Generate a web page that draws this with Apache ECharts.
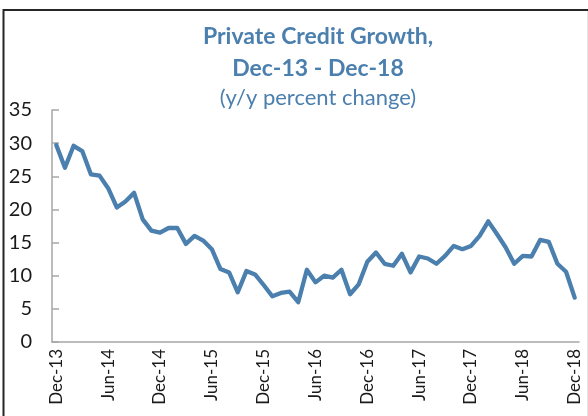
<!DOCTYPE html>
<html>
<head>
<meta charset="utf-8">
<script src="https://cdn.jsdelivr.net/npm/echarts@6/dist/echarts.min.js"></script>
<style>
html,body{margin:0;padding:0;background:#fff;}
#chart{width:588px;height:416px;}
</style>
</head>
<body>
<div id="chart"></div>
<script>
var titleLines = ['Private Credit Growth,', 'Dec-13 - Dec-18'];
var subtitle = '(y/y percent change)';

var months = [
  'Dec-13',
  'Jan-14','Feb-14','Mar-14','Apr-14','May-14','Jun-14','Jul-14','Aug-14','Sep-14','Oct-14','Nov-14','Dec-14',
  'Jan-15','Feb-15','Mar-15','Apr-15','May-15','Jun-15','Jul-15','Aug-15','Sep-15','Oct-15','Nov-15','Dec-15',
  'Jan-16','Feb-16','Mar-16','Apr-16','May-16','Jun-16','Jul-16','Aug-16','Sep-16','Oct-16','Nov-16','Dec-16',
  'Jan-17','Feb-17','Mar-17','Apr-17','May-17','Jun-17','Jul-17','Aug-17','Sep-17','Oct-17','Nov-17','Dec-17',
  'Jan-18','Feb-18','Mar-18','Apr-18','May-18','Jun-18','Jul-18','Aug-18','Sep-18','Oct-18','Nov-18','Dec-18'
];

var growth = [
  29.7,
  26.3, 29.6, 28.8, 25.3, 25.1, 23.2, 20.3, 21.2, 22.5, 18.5, 16.8, 16.5,
  17.2, 17.2, 14.8, 16.0, 15.3, 14.0, 11.0, 10.5, 7.5, 10.7, 10.2, 8.6,
  6.9, 7.4, 7.6, 6.0, 10.9, 9.0, 10.0, 9.7, 10.9, 7.2, 8.7, 12.1,
  13.5, 11.8, 11.5, 13.3, 10.5, 12.9, 12.6, 11.8, 13.0, 14.5, 14.0, 14.5,
  16.0, 18.2, 16.3, 14.3, 11.8, 13.0, 12.9, 15.4, 15.1, 11.8, 10.6, 6.7
];

var yTicks = [0, 5, 10, 15, 20, 25, 30, 35];

var chart = echarts.init(document.getElementById('chart'), null, {renderer: 'canvas'});
var blue = '#4a7fae';
var option = {
  backgroundColor: '#fff',
  animation: false,
  title: {
    text: titleLines.join('\n'),
    subtext: subtitle,
    left: 318,
    textAlign: 'center',
    top: 21,
    padding: 0,
    itemGap: 0,
    textStyle: {fontFamily: 'Lato', fontWeight: 'bold', fontSize: 23, lineHeight: 32, color: blue},
    subtextStyle: {fontFamily: 'Lato', fontWeight: 'normal', fontSize: 22, lineHeight: 26, color: blue}
  },
  grid: {left: 52, right: 9, top: 110, bottom: 74, containLabel: false},
  xAxis: {
    type: 'category',
    data: months,
    boundaryGap: true,
    axisLine: {lineStyle: {color: '#a6a6a6', width: 1.5}},
    axisTick: {interval: 2, length: 4, lineStyle: {color: '#a6a6a6', width: 1.5}},
    axisLabel: {interval: 5, rotate: 90, margin: 7, fontFamily: 'Lato', fontSize: 17, color: '#1a1a1a'},
    splitLine: {show: false}
  },
  yAxis: {
    type: 'value',
    min: yTicks[0],
    max: yTicks[yTicks.length - 1],
    interval: 5,
    axisLine: {show: true, lineStyle: {color: '#a6a6a6', width: 1.5}},
    axisTick: {show: true, inside: true, length: 7, lineStyle: {color: '#a6a6a6', width: 1.5}},
    axisLabel: {margin: 20, fontFamily: 'Lato', fontSize: 20, color: '#1a1a1a'},
    splitLine: {show: false}
  },
  series: [{
    type: 'line',
    data: growth,
    symbol: 'none',
    lineStyle: {color: blue, width: 4.3, join: 'round', cap: 'round'}
  }],
  graphic: [
    {type: 'line', shape: {x1: 3, y1: 10, x2: 588, y2: 10}, style: {stroke: '#262626', lineWidth: 2}, silent: true},
    {type: 'line', shape: {x1: 3.5, y1: 9, x2: 3.5, y2: 416}, style: {stroke: '#262626', lineWidth: 2}, silent: true},
    {type: 'line', shape: {x1: 587.5, y1: 11, x2: 587.5, y2: 416}, style: {stroke: '#e6e6e6', lineWidth: 1}, silent: true}
  ]
};
chart.setOption(option);
</script>
</body>
</html>
